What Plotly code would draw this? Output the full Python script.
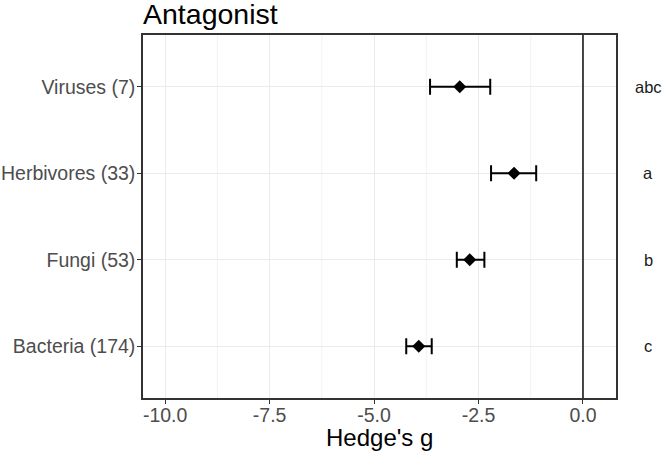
import plotly.graph_objects as go

# data
groups = ["Bacteria (174)", "Fungi (53)", "Herbivores (33)", "Viruses (7)"]
estimate = [-3.93, -2.71, -1.65, -2.95]
ci_low = [-4.23, -3.02, -2.20, -3.66]
ci_high = [-3.62, -2.36, -1.12, -2.22]
letters = ["c", "b", "a", "abc"]

ypos = list(range(1, len(groups) + 1))
err_plus = [h - e for h, e in zip(ci_high, estimate)]
err_minus = [e - l for e, l in zip(estimate, ci_low)]

fig = go.Figure()

# minor grid lines (ggplot style)
for xv in [-8.75, -6.25, -3.75, -1.25]:
    fig.add_shape(type="line", xref="x", yref="paper", x0=xv, x1=xv, y0=0, y1=1,
                  line=dict(color="#F2F2F2", width=1), layer="below")

fig.add_shape(type="line", xref="x", yref="paper", x0=0, x1=0, y0=0, y1=1,
              line=dict(color="#1a1a1a", width=1.6))

fig.add_trace(go.Scatter(
    x=estimate,
    y=ypos,
    mode="markers",
    marker=dict(symbol="diamond", size=10, color="black"),
    error_x=dict(type="data", symmetric=False, array=err_plus, arrayminus=err_minus,
                 color="black", thickness=2, width=8),
    showlegend=False,
    hovertemplate="%{text}<br>g = %{x:.2f}<extra></extra>",
    text=groups,
))

for y, lab in zip(ypos, letters):
    fig.add_annotation(x=1.068, xref="paper", y=y, yref="y", text=lab, showarrow=False,
                       xanchor="center", font=dict(size=16.5, color="#1a1a1a"))

# x axis title as annotation so it sits where the reference has it
fig.add_annotation(x=0.5, xref="paper", y=-0.152, yref="paper", text="Hedge's g",
                   showarrow=False, xanchor="center", yanchor="bottom",
                   font=dict(size=24, color="black"))

fig.update_layout(
    width=665, height=451,
    margin=dict(l=143, r=49, t=35, b=53),
    paper_bgcolor="white",
    plot_bgcolor="white",
    font=dict(family="Liberation Sans, Arial, sans-serif"),
    title=dict(text="Antagonist", x=143 / 665, xanchor="left",
               yref="container", y=1 - 24 / 451, yanchor="bottom",
               font=dict(size=28.5, color="black")),
)

fig.update_xaxes(
    range=[-10.53, 0.79],
    tickvals=[-10, -7.5, -5, -2.5, 0],
    ticktext=["-10.0", "-7.5", "-5.0", "-2.5", "0.0"],
    ticks="outside", ticklen=4, tickcolor="#333333", tickwidth=1.2,
    tickfont=dict(size=19.5, color="#4D4D4D"), ticklabelstandoff=-5,
    showgrid=True, gridcolor="#EBEBEB", gridwidth=1.3,
    zeroline=False, automargin=False,
    showline=True, linecolor="#333333", linewidth=1.5, mirror=True,
)
fig.update_yaxes(
    range=[0.4, 4.6],
    tickvals=ypos,
    ticktext=groups,
    ticks="outside", ticklen=4, tickcolor="#333333", tickwidth=1.2,
    tickfont=dict(size=19.5, color="#4D4D4D"), ticklabelstandoff=-2,
    showgrid=True, gridcolor="#EBEBEB", gridwidth=1.3,
    zeroline=False, automargin=False,
    showline=True, linecolor="#333333", linewidth=1.5, mirror=True,
)

# drop the default page margin so the figure starts at the window corner
fig.write_html("out.html", config={"displayModeBar": False},
               post_script="document.body.style.margin='0';")
